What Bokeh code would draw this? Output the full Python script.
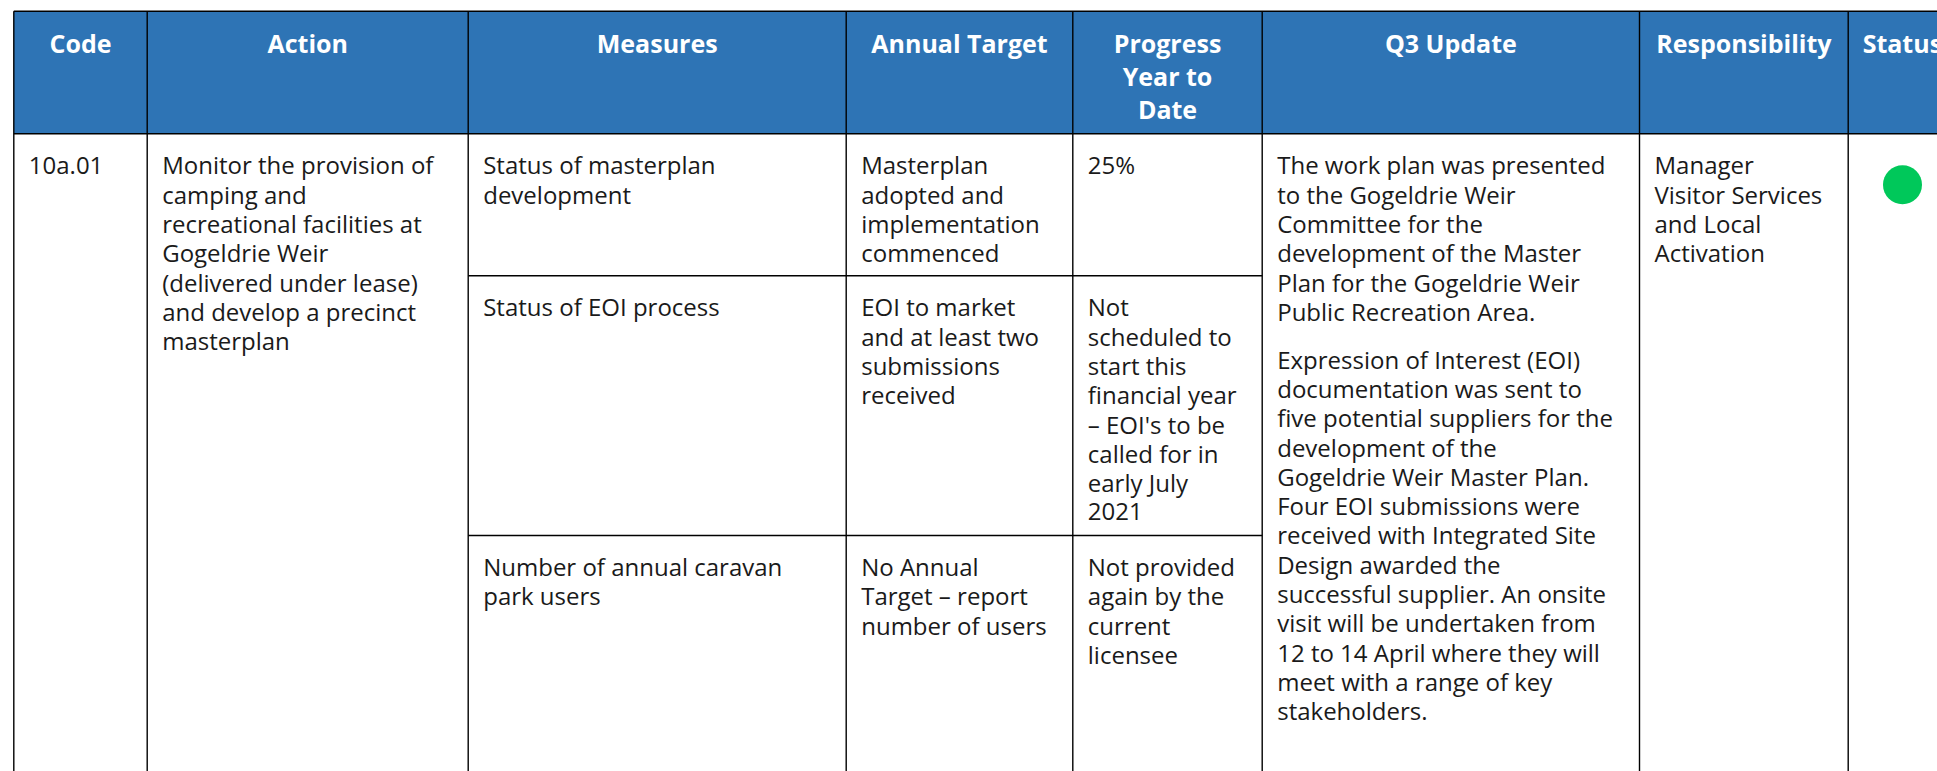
from bokeh.plotting import figure
from bokeh.models import Range1d
from bokeh.core.properties import value
from bokeh.embed import file_html
from bokeh.resources import INLINE

# ---------------- data ----------------
headers = ["Code", "Action", "Measures", "Annual Target",
           "Progress\nYear to\nDate", "Q3 Update", "Responsibility", "Status"]

codes = ["10a.01"]
actions = [["Monitor the provision of", "camping and", "recreational facilities at",
            "Gogeldrie Weir", "(delivered under lease)", "and develop a precinct",
            "masterplan"]]

measures = [["Status of masterplan", "development"],
            ["Status of EOI process"],
            ["Number of annual caravan", "park users"]]
annual_targets = [["Masterplan", "adopted and", "implementation", "commenced"],
                  ["EOI to market", "and at least two", "submissions", "received"],
                  ["No Annual", "Target \u2013 report", "number of users"]]
progress_ytd = [["25%"],
                ["Not", "scheduled to", "start this", "financial year",
                 "\u2013 EOI's to be", "called for in", "early July", "2021"],
                ["Not provided", "again by the", "current", "licensee"]]

q3_update = [["The work plan was presented", "to the Gogeldrie Weir",
              "Committee for the", "development of the Master",
              "Plan for the Gogeldrie Weir", "Public Recreation Area."],
             ["Expression of Interest (EOI)", "documentation was sent to",
              "five potential suppliers for the", "development of the",
              "Gogeldrie Weir Master Plan.", "Four EOI submissions were",
              "received with Integrated Site", "Design awarded the",
              "successful supplier. An onsite", "visit will be undertaken from",
              "12 to 14 April where they will", "meet with a range of key",
              "stakeholders."]]

responsibility = [["Manager", "Visitor Services", "and Local", "Activation"]]
statuses = ["On track"]
status_colors = {"On track": "#00C85A"}

# ---------------- layout ----------------
FW, FH = 1937, 771
COL_X = [13.3, 146.7, 467.7, 845.7, 1072.3, 1261.7, 1639.0, 1847.7, 1956.0]
TOP = 10.7
HEAD_BOTTOM = 133.3
BOTTOM = 800
SUB_ROW_TOPS = [133.3, 275.3, 535.0]
PAD = 15
MID_OFF = 31.0
LINE_H = 29.3
PARA_GAP = 18.5
HEAD_MID = 42.0
HEAD_LINE_H = 33

BLUE = "#2E74B5"
BODY_FONT = value("Open Sans")
BODY_SIZE = "24px"
HEAD_SIZE = "25px"

p = figure(width=FW, height=FH, x_range=Range1d(0, FW), y_range=Range1d(FH, 0),
           output_backend="svg", toolbar_location=None, min_border=0,
           background_fill_color="white", border_fill_color="white")
p.min_border_left = p.min_border_right = p.min_border_top = p.min_border_bottom = 0
p.xaxis.visible = False
p.yaxis.visible = False
p.grid.visible = False
p.outline_line_color = None

# header background
p.quad(left=[COL_X[0]], right=[COL_X[-1]], top=[TOP], bottom=[HEAD_BOTTOM],
       fill_color=BLUE, line_color=None)

# header text
hx, hy, ht = [], [], []
for i, h in enumerate(headers):
    cx = (COL_X[i] + COL_X[i + 1]) / 2
    for j, line in enumerate(h.split("\n")):
        hx.append(cx)
        hy.append(HEAD_MID + j * HEAD_LINE_H)
        ht.append(line)
p.text(x=hx, y=hy, text=ht, text_align="center", text_baseline="middle",
       text_font=BODY_FONT, text_font_style="bold", text_font_size=HEAD_SIZE,
       text_color="white")

# body text
bx, by, bt = [], [], []


def add_lines(col, top, lines, start_offset=0.0):
    for j, line in enumerate(lines):
        bx.append(COL_X[col] + PAD)
        by.append(top + MID_OFF + start_offset + j * LINE_H)
        bt.append(line)


add_lines(0, SUB_ROW_TOPS[0], [codes[0]])
add_lines(1, SUB_ROW_TOPS[0], actions[0])
for k in range(3):
    add_lines(2, SUB_ROW_TOPS[k], measures[k])
    add_lines(3, SUB_ROW_TOPS[k], annual_targets[k])
    add_lines(4, SUB_ROW_TOPS[k], progress_ytd[k])
off = 0.0
for para in q3_update:
    add_lines(5, SUB_ROW_TOPS[0], para, off)
    off += len(para) * LINE_H + PARA_GAP
add_lines(6, SUB_ROW_TOPS[0], responsibility[0])

p.text(x=bx, y=by, text=bt, text_align="left", text_baseline="middle",
       text_font=BODY_FONT, text_font_size=BODY_SIZE, text_color="#1a1a1a")

# status marker
p.circle(x=[1902.0], y=[SUB_ROW_TOPS[0] + 51],
         radius=19.5, fill_color=[status_colors[s] for s in statuses], line_color=None)

# grid lines
x0s, y0s, x1s, y1s = [], [], [], []
for x in COL_X:
    x0s.append(x); y0s.append(TOP); x1s.append(x); y1s.append(BOTTOM)
for y in (TOP, HEAD_BOTTOM):
    x0s.append(COL_X[0]); y0s.append(y); x1s.append(COL_X[-1]); y1s.append(y)
for y in SUB_ROW_TOPS[1:]:
    x0s.append(COL_X[2]); y0s.append(y); x1s.append(COL_X[5]); y1s.append(y)
p.segment(x0=x0s, y0=y0s, x1=x1s, y1=y1s, line_color="black", line_width=1.4)

open("out.html", "w").write(file_html(p, INLINE))
